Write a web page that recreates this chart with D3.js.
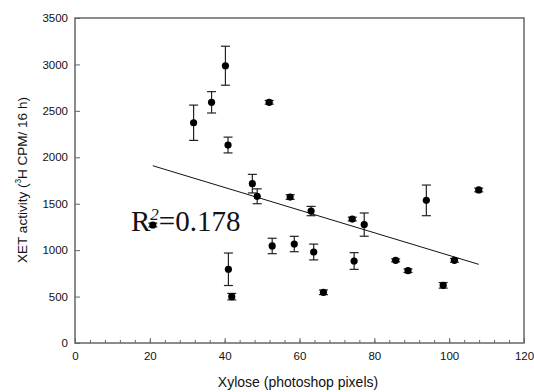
<!DOCTYPE html>
<html>
<head>
<meta charset="utf-8">
<script src="https://cdn.jsdelivr.net/npm/d3@7"></script>
<style>
  body { margin: 0; background: #fff; }
  svg { display: block; }
  text { font-family: "Liberation Sans", Arial, sans-serif; fill: #111; }
</style>
</head>
<body>
<div id="chart"></div>
<script>
// data
const xylose = [20.8, 31.7, 36.5, 40.2, 40.9, 41.0, 41.9, 47.4, 48.7, 51.9, 52.7, 57.5, 58.6,
                63.1, 63.8, 66.4, 74.1, 74.6, 77.3, 85.7, 89.0, 93.9, 98.4, 101.4, 107.9];
const xet    = [1271, 2372, 2592, 2986, 2132, 794, 499, 1716, 1580, 2592, 1045, 1572, 1066,
                1421, 980, 546, 1335, 883, 1275, 890, 779, 1536, 621, 890, 1648];
const xetErr = [20, 190, 115, 210, 85, 175, 35, 100, 80, 20, 83, 25, 83,
                50, 85, 25, 20, 90, 125, 15, 20, 165, 30, 20, 20];
// fitted line endpoints
const fitX = [20.8, 107.9];
const fitY = [1909, 847];
const r2Label = "0.178";

const xTicks = [0, 20, 40, 60, 80, 100, 120];
const yTicks = [0, 500, 1000, 1500, 2000, 2500, 3000, 3500];

const width = 534, height = 392;
const margin = {top: 18, right: 10, bottom: 49, left: 75};
const innerW = width - margin.left - margin.right;
const innerH = height - margin.top - margin.bottom;

const svg = d3.select('#chart').append('svg')
    .attr('width', width)
    .attr('height', height);

const x = d3.scaleLinear().domain([0, 120]).range([margin.left, margin.left + innerW]);
const y = d3.scaleLinear().domain([0, 3500]).range([margin.top + innerH, margin.top]);

const axisColor = '#666';

// frame
svg.append('rect')
    .attr('x', margin.left)
    .attr('y', margin.top)
    .attr('width', innerW)
    .attr('height', innerH)
    .attr('fill', 'none')
    .attr('stroke', axisColor)
    .attr('stroke-width', 1.5);

// x axis, minor ticks every 4 units, pointing inward
const xAxis = svg.append('g')
    .attr('transform', `translate(0,${margin.top + innerH})`);
xAxis.call(d3.axisBottom(x).tickValues(d3.range(0, 121, 4)).tickSize(-3).tickFormat(''));
xAxis.call(g => g.append('g').call(d3.axisBottom(x).tickValues(xTicks).tickSize(-5).tickPadding(9).tickFormat(d3.format('d'))));
xAxis.selectAll('.domain').remove();
xAxis.selectAll('line').attr('stroke', axisColor);
xAxis.selectAll('text').attr('font-size', 11.5).attr('fill', '#111');

// y axis, ticks pointing inward
const yAxis = svg.append('g')
    .attr('transform', `translate(${margin.left},0)`)
    .call(d3.axisLeft(y).tickValues(yTicks).tickSize(-5).tickPadding(7).tickFormat(d3.format('d')));
yAxis.select('.domain').remove();
yAxis.selectAll('line').attr('stroke', axisColor);
yAxis.selectAll('text').attr('font-size', 11.5).attr('fill', '#111');

// axis titles
svg.append('text')
    .attr('x', 298)
    .attr('y', 387)
    .attr('text-anchor', 'middle')
    .attr('font-size', 14)
    .text('Xylose (photoshop pixels)');

const yTitle = svg.append('text')
    .attr('transform', 'translate(27,180) rotate(-90)')
    .attr('text-anchor', 'middle')
    .attr('font-size', 13.5);
yTitle.append('tspan').text('XET activity (');
yTitle.append('tspan').attr('font-size', 8.5).attr('dy', -6).text('3');
yTitle.append('tspan').attr('dy', 6).text('H CPM/ 16 h)');

// regression line
svg.append('line')
    .attr('x1', x(fitX[0])).attr('y1', y(fitY[0]))
    .attr('x2', x(fitX[1])).attr('y2', y(fitY[1]))
    .attr('stroke', '#111')
    .attr('stroke-width', 1);

const points = xylose.map((d, i) => ({x: d, y: xet[i], e: xetErr[i]}));

// error bars
const err = svg.append('g').attr('stroke', '#222').attr('stroke-width', 1.2);
err.selectAll('.bar')
    .data(points)
    .join('line')
    .attr('x1', d => x(d.x)).attr('x2', d => x(d.x))
    .attr('y1', d => y(d.y - d.e)).attr('y2', d => y(d.y + d.e));
err.selectAll('.capTop')
    .data(points)
    .join('line')
    .attr('x1', d => x(d.x) - 4.5).attr('x2', d => x(d.x) + 4.5)
    .attr('y1', d => y(d.y + d.e)).attr('y2', d => y(d.y + d.e));
err.selectAll('.capBot')
    .data(points)
    .join('line')
    .attr('x1', d => x(d.x) - 4.5).attr('x2', d => x(d.x) + 4.5)
    .attr('y1', d => y(d.y - d.e)).attr('y2', d => y(d.y - d.e));

// points
svg.append('g')
    .selectAll('circle')
    .data(points)
    .join('circle')
    .attr('cx', d => x(d.x))
    .attr('cy', d => y(d.y))
    .attr('r', 3.6)
    .attr('fill', '#000');

// R squared label
const r2 = svg.append('text')
    .attr('x', 131)
    .attr('y', 231)
    .style('font-family', '"Liberation Serif", "Times New Roman", serif')
    .attr('font-size', 29);
r2.append('tspan').text('R');
r2.append('tspan').attr('font-size', 17).attr('dy', -11).attr('font-style', 'italic').text('2');
r2.append('tspan').attr('dy', 11).text('=' + r2Label);
</script>
</body>
</html>
